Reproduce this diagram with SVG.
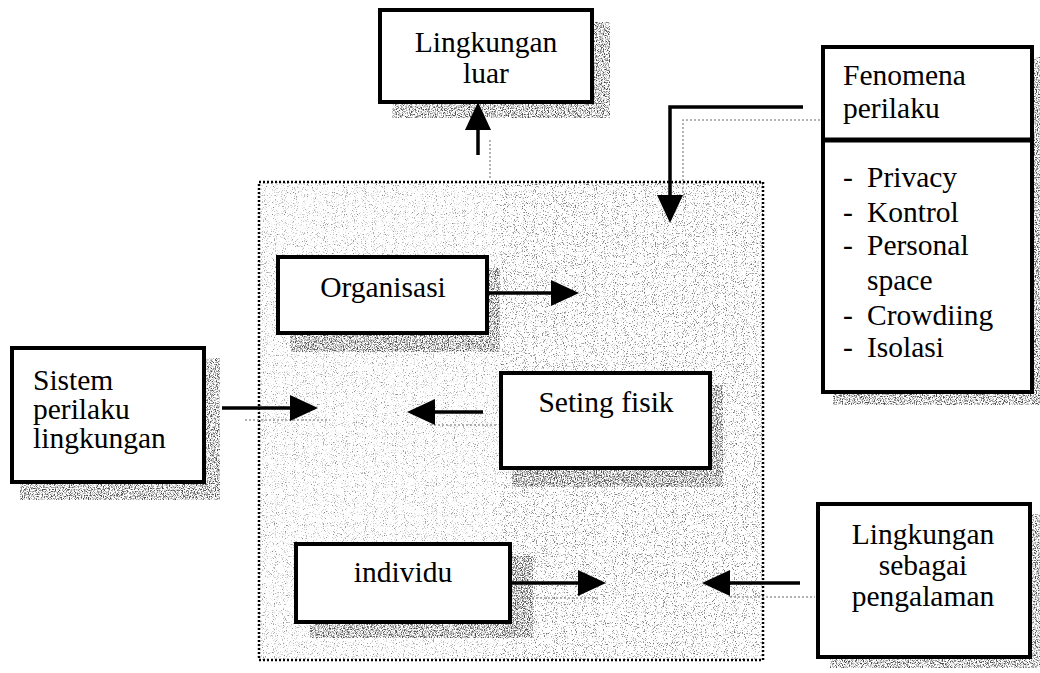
<svg xmlns="http://www.w3.org/2000/svg" width="1040" height="673" viewBox="0 0 1040 673">
<style>
.box{fill:#fff;stroke:#000;stroke-width:4}
.t{font-family:"Liberation Serif","Times New Roman",serif;font-size:29.5px;fill:#000}
.c{text-anchor:middle}
.conn{fill:none;stroke:#000;stroke-width:3.5}
.ghost{fill:none;stroke:#9a9a9a;stroke-width:1.5;stroke-dasharray:2 2}
.shadow{fill:#000;filter:url(#spkD)}
</style>
<defs>
<filter id="spkD" x="0" y="0" width="1" height="1" color-interpolation-filters="sRGB">
<feTurbulence type="fractalNoise" baseFrequency="0.85" numOctaves="2" seed="4" result="n"/>
<feColorMatrix in="n" type="matrix" values="0 0 0 0 0.3  0 0 0 0 0.3  0 0 0 0 0.3  4 0 0 0 -1.8"/>
<feComposite in2="SourceGraphic" operator="in"/>
</filter>
<filter id="spkL" x="0" y="0" width="1" height="1" color-interpolation-filters="sRGB">
<feTurbulence type="fractalNoise" baseFrequency="0.9" numOctaves="2" seed="9" result="n"/>
<feColorMatrix in="n" type="matrix" values="0 0 0 0 0.4  0 0 0 0 0.4  0 0 0 0 0.4  4 0 0 0 -2.3"/>
<feComposite in2="SourceGraphic" operator="in"/>
</filter>
<marker id="ah" markerUnits="userSpaceOnUse" markerWidth="28" markerHeight="26" refX="0" refY="13" orient="auto">
<path d="M0,0 L28,13 L0,26 z" fill="#000"/>
</marker>
</defs>

<g id="container">
<rect x="259" y="182" width="504" height="478" fill="#000" filter="url(#spkL)" opacity="0.8"/>
<rect x="500" y="182" width="263" height="478" fill="#000" filter="url(#spkL)" opacity="0.8"/>
<rect x="259" y="182" width="504" height="478" fill="none" stroke="#000" stroke-width="2.5" stroke-dasharray="2 2"/>
</g>

<g id="shadows">
<rect class="shadow" x="392" y="22" width="218" height="96"/>
<rect class="shadow" x="833" y="57" width="207" height="348"/>
<rect class="shadow" x="20" y="358" width="200" height="142"/>
<rect class="shadow" x="290" y="268" width="210" height="84"/>
<rect class="shadow" x="512" y="385" width="211" height="102"/>
<rect class="shadow" x="310" y="556" width="223" height="82"/>
<rect class="shadow" x="830" y="514" width="210" height="154"/>
</g>

<g id="connectors">
<path class="ghost" d="M820,120 H683 V200"/>
<path class="ghost" d="M245,420 H330"/>
<path class="ghost" d="M430,425 H497"/>
<path class="ghost" d="M520,598 H600"/>
<path class="ghost" d="M730,597 H815"/>
<path class="ghost" d="M490,140 V178"/>
<path class="conn" d="M478,155 V130" marker-end="url(#ah)"/>
<path class="conn" d="M803,107 H670 V195" marker-end="url(#ah)"/>
<path class="conn" d="M487,293 H551" marker-end="url(#ah)"/>
<path class="conn" d="M222,408 H290" marker-end="url(#ah)"/>
<path class="conn" d="M483,412 H435" marker-end="url(#ah)"/>
<path class="conn" d="M510,583 H578" marker-end="url(#ah)"/>
<path class="conn" d="M800,583 H730" marker-end="url(#ah)"/>
</g>

<g id="lingkungan-luar">
<rect class="box" x="380" y="10" width="212" height="92"/>
<text class="t c" x="486" y="52">Lingkungan</text>
<text class="t c" x="486" y="83">luar</text>
</g>

<g id="fenomena-perilaku">
<rect class="box" x="823" y="47" width="209" height="345"/>
<line x1="823" y1="140" x2="1032" y2="140" stroke="#000" stroke-width="5"/>
<text class="t" x="843" y="85">Fenomena</text>
<text class="t" x="843" y="118">perilaku</text>
<text class="t" x="843" y="187">-</text><text class="t" x="867" y="187">Privacy</text>
<text class="t" x="843" y="222">-</text><text class="t" x="867" y="222">Kontrol</text>
<text class="t" x="843" y="255">-</text><text class="t" x="867" y="255">Personal</text>
<text class="t" x="867" y="290">space</text>
<text class="t" x="843" y="325">-</text><text class="t" x="867" y="325">Crowdiing</text>
<text class="t" x="843" y="357">-</text><text class="t" x="867" y="357">Isolasi</text>
</g>

<g id="sistem-perilaku-lingkungan">
<rect class="box" x="12" y="348" width="192" height="134"/>
<text class="t" x="33" y="390">Sistem</text>
<text class="t" x="33" y="419">perilaku</text>
<text class="t" x="33" y="448">lingkungan</text>
</g>

<g id="organisasi">
<rect class="box" x="278" y="257" width="209" height="76"/>
<text class="t c" x="383" y="297">Organisasi</text>
</g>

<g id="seting-fisik">
<rect class="box" x="501" y="373" width="209" height="95"/>
<text class="t c" x="606" y="412">Seting fisik</text>
</g>

<g id="individu">
<rect class="box" x="296" y="544" width="214" height="78"/>
<text class="t c" x="403" y="582">individu</text>
</g>

<g id="lingkungan-sebagai-pengalaman">
<rect class="box" x="818" y="504" width="212" height="153"/>
<text class="t c" x="923" y="544">Lingkungan</text>
<text class="t c" x="923" y="575">sebagai</text>
<text class="t c" x="923" y="606">pengalaman</text>
</g>
</svg>
